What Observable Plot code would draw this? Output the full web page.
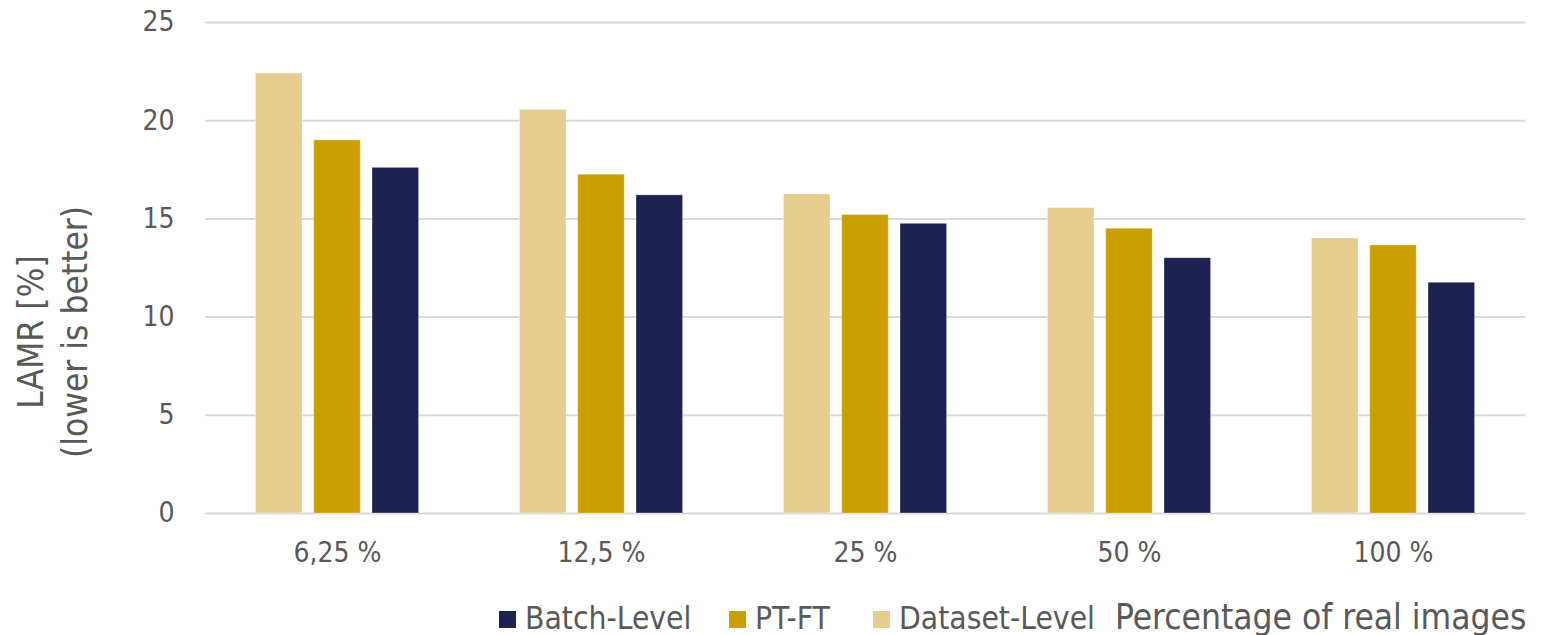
<!DOCTYPE html>
<html>
<head>
<meta charset="utf-8">
<script src="https://cdn.jsdelivr.net/npm/d3@7"></script>
<script src="https://cdn.jsdelivr.net/npm/@observablehq/plot@0.6"></script>
<style>
  html, body { margin: 0; padding: 0; background: #fff; }
  body { width: 1555px; height: 635px; overflow: hidden; font-family: "DejaVu Sans Condensed", "DejaVu Sans", sans-serif; color: #595959; }
  #legend { position: relative; height: 50px; }
  .item { position: absolute; top: 18px; display: flex; align-items: center; height: 32px; line-height: 1; font-size: 31.5px; white-space: nowrap; }
  .sw { width: 17px; height: 17px; margin-right: 9px; display: inline-block; }
</style>
</head>
<body>
<div id="chart"></div>
<div id="legend"></div>
<script>
const categories = ["6,25 %", "12,5 %", "25 %", "50 %", "100 %"];
const seriesNames = ["Dataset-Level", "PT-FT", "Batch-Level"];
const seriesColors = ["#E5CD90", "#C9A000", "#1E2250"];
const datasetLevel = [22.4, 20.55, 16.25, 15.55, 14.0];
const ptft = [19.0, 17.25, 15.2, 14.5, 13.65];
const batchLevel = [17.6, 16.2, 14.75, 13.0, 11.75];
const yTicks = [0, 5, 10, 15, 20, 25];
const legendOrder = ["Batch-Level", "PT-FT", "Dataset-Level"];
const xTitle = "Percentage of real images";
const yTitle = ["LAMR [%]", "(lower is better)"];

const seriesValues = [datasetLevel, ptft, batchLevel];

const W = 1555, ML = 205, MR = 30;
const step = (W - ML - MR) / categories.length;   // band width per category
const bw = 46.6, gap = 11.7;                        // bar width and gap (px)
const off = (step - (3 * bw + 2 * gap)) / 2;

const font = "DejaVu Sans Condensed, DejaVu Sans, sans-serif";
const barMarks = seriesNames.map((s, j) => {
  const left = off + j * (bw + gap);
  return Plot.barY(categories.map((c, i) => ({cat: c, series: s, value: seriesValues[j][i]})), {
    x: "cat", y: "value", fill: seriesColors[j],
    insetLeft: left, insetRight: step - left - bw,
    stroke: "#ffffff", strokeOpacity: 0.35, strokeWidth: 1
  });
});

const chart = Plot.plot({
  width: W,
  height: 585,
  marginTop: 22,
  marginBottom: 72,
  marginLeft: ML,
  marginRight: MR,
  style: {fontFamily: font, fontSize: "28px", color: "#595959", background: "#fff"},
  x: {domain: categories, padding: 0, label: null},
  y: {domain: [0, 25], label: null},
  marks: [
    Plot.ruleY(yTicks, {stroke: "#d9d9d9", strokeWidth: 2}),
    Plot.axisY(yTicks, {tickSize: 0, tickPadding: 31, fill: "#595959", fontSize: 28, label: null}),
    Plot.axisX({tickSize: 0, tickPadding: 29, fill: "#595959", fontSize: 28, label: null}),
    ...barMarks
  ]
});
document.getElementById("chart").appendChild(chart);

// y title (two lines, rotated)
const svg = d3.select(chart);
const yt = svg.append("text")
  .attr("transform", "translate(0,332) rotate(-90)")
  .attr("text-anchor", "middle")
  .attr("fill", "#595959")
  .style("font-family", font)
  .style("font-size", "35px");
yTitle.forEach((t, i) => yt.append("tspan").attr("x", 0).attr("y", i === 0 ? 43 : 87).text(t));

// legend below the plot
const legend = document.getElementById("legend");
const lx = [499, 729, 873];
legendOrder.forEach((s, i) => {
  const d = document.createElement("div");
  d.className = "item";
  d.style.left = lx[i] + "px";
  const sw = document.createElement("span");
  sw.className = "sw";
  sw.style.background = seriesColors[seriesNames.indexOf(s)];
  d.appendChild(sw);
  d.appendChild(document.createTextNode(s));
  legend.appendChild(d);
});
const xt = document.createElement("div");
xt.className = "item";
xt.style.left = "1115px";
xt.style.fontSize = "35px";
xt.style.top = "14px";
xt.style.height = "36px";
xt.textContent = xTitle;
legend.appendChild(xt);
</script>
</body>
</html>
